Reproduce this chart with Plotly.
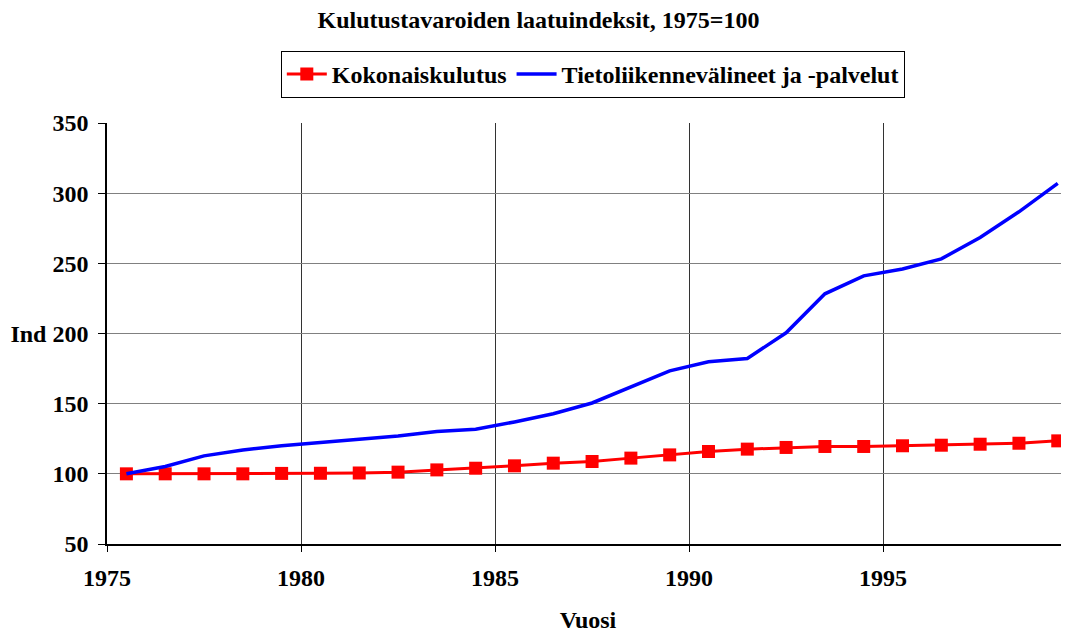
import plotly.graph_objects as go

years = list(range(1975, 2000))
kokonais = [100, 100, 100, 100, 100.3, 100.4, 100.6, 101.2, 102.8, 104.0, 105.7, 107.6,
            108.8, 111.2, 113.5, 115.9, 117.6, 118.8, 119.5, 119.5, 120.0, 120.4, 121.1, 121.8, 123.5]
tieto = [100, 105.2, 112.8, 117.0, 120.0, 122.3, 124.2, 127.0, 130.2, 131.8, 137.0, 142.8,
         150.5, 161.8, 173.4, 179.8, 182.2, 200.5, 228.3, 241.1, 246.0, 253.2, 268.4, 286.7, 307.0]

x_tick_years = [1975, 1980, 1985, 1990, 1995]
y_ticks = [50, 100, 150, 200, 250, 300, 350]
y_tick_text = ["50", "100", "150", "Ind 200", "250", "300", "350"]

FONT = "Times New Roman"

fig = go.Figure()
fig.add_trace(go.Scatter(
    x=years, y=kokonais, name="Kokonaiskulutus", mode="lines+markers",
    line=dict(color="#ff0000", width=3),
    marker=dict(symbol="square", size=13, color="#ff0000"),
))
fig.add_trace(go.Scatter(
    x=years, y=tieto, name="Tietoliikennevälineet ja -palvelut", mode="lines",
    line=dict(color="#0000ff", width=3.5),
))

fig.update_layout(
    width=1061, height=625,
    margin=dict(l=99, r=0, t=115, b=89),
    paper_bgcolor="white", plot_bgcolor="white",
    font=dict(family=FONT, size=24, color="black", weight="bold"),
    title=dict(text="Kulutustavaroiden laatuindeksit, 1975=100", x=0.5, xanchor="center",
               y=0.982, yanchor="middle",
               font=dict(family=FONT, size=24, color="black", weight="bold")),
    legend=dict(orientation="h", x=0.505, xanchor="center", y=1.171, yanchor="top",
                bordercolor="black", borderwidth=1, bgcolor="white",
                font=dict(family=FONT, size=24, color="black", weight="bold"),
                itemwidth=40, tracegroupgap=0),
    showlegend=True,
)

fig.update_xaxes(
    range=[1974.5, 1999.29],
    tickvals=[y - 0.5 for y in x_tick_years],
    ticktext=[str(y) for y in x_tick_years],
    showgrid=True, gridcolor="#333333", gridwidth=1,
    showline=True, linecolor="black", linewidth=1.5,
    ticks="outside", ticklen=6, tickcolor="black",
    ticklabelstandoff=5,
    zeroline=False,
    title=dict(text="Vuosi", font=dict(family=FONT, size=24, weight="bold"), standoff=22),
    tickfont=dict(family=FONT, size=24, weight="bold"),
)
fig.update_yaxes(
    range=[50, 350],
    tickvals=y_ticks, ticktext=y_tick_text,
    showgrid=True, gridcolor="#808080", gridwidth=1,
    showline=True, linecolor="black", linewidth=1.5,
    ticks="outside", ticklen=7, tickcolor="black",
    ticklabelstandoff=5,
    zeroline=False,
    tickfont=dict(family=FONT, size=24, weight="bold"),
)

fig.write_html("out.html")
